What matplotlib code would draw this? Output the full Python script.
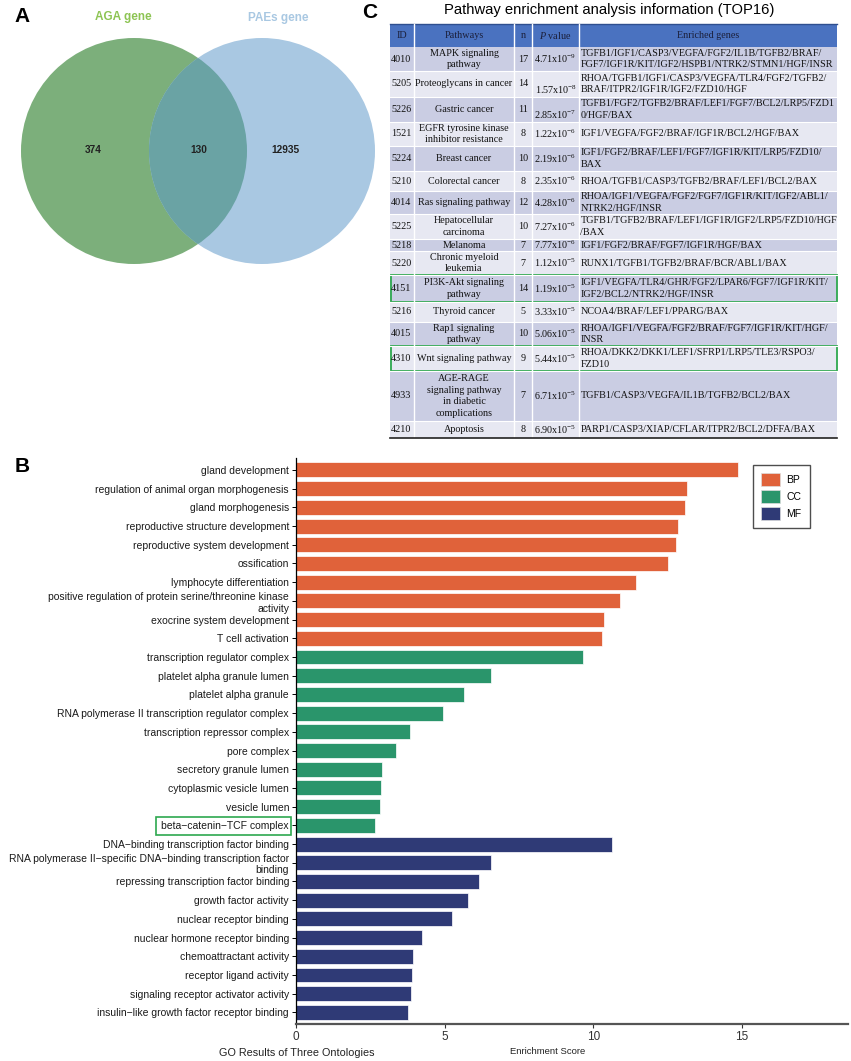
import matplotlib
matplotlib.use('Agg')
import matplotlib.pyplot as plt
from matplotlib.patches import Circle, Rectangle, Patch

plt.rcParams['font.family'] = ['Liberation Sans', 'DejaVu Sans']
plt.rcParams['mathtext.fontset'] = 'custom'
plt.rcParams['mathtext.rm'] = 'Liberation Serif'
plt.rcParams['mathtext.it'] = 'Liberation Serif:italic'

# ======= DATA ========
venn_names = ['AGA gene', 'PAEs gene']
venn_counts = [374, 130, 12935]   # AGA only, shared, PAEs only

tab_title = 'Pathway enrichment analysis information (TOP16)'
tab_header = ['ID', 'Pathways', 'n', r'$\mathit{P}$ value', 'Enriched genes']
tab_ids = ['4010', '5205', '5226', '1521', '5224', '5210', '4014', '5225',
           '5218', '5220', '4151', '5216', '4015', '4310', '4933', '4210']
tab_paths = ['MAPK signaling\npathway', 'Proteoglycans in cancer', 'Gastric cancer',
             'EGFR tyrosine kinase\ninhibitor resistance', 'Breast cancer',
             'Colorectal cancer', 'Ras signaling pathway', 'Hepatocellular\ncarcinoma',
             'Melanoma', 'Chronic myeloid\nleukemia', 'PI3K-Akt signaling\npathway',
             'Thyroid cancer', 'Rap1 signaling\npathway', 'Wnt signaling pathway',
             'AGE-RAGE\nsignaling pathway\nin diabetic\ncomplications', 'Apoptosis']
tab_n = [17, 14, 11, 8, 10, 8, 12, 10, 7, 7, 14, 5, 10, 9, 7, 8]
tab_p_mant = ['4.71', '1.57', '2.85', '1.22', '2.19', '2.35', '4.28', '7.27',
              '7.77', '1.12', '1.19', '3.33', '5.06', '5.44', '6.71', '6.90']
tab_p_exp = [-9, -8, -7, -6, -6, -6, -6, -6, -6, -5, -5, -5, -5, -5, -5, -5]
tab_genes = ['TGFB1/IGF1/CASP3/VEGFA/FGF2/IL1B/TGFB2/BRAF/\nFGF7/IGF1R/KIT/IGF2/HSPB1/NTRK2/STMN1/HGF/INSR',
             'RHOA/TGFB1/IGF1/CASP3/VEGFA/TLR4/FGF2/TGFB2/\nBRAF/ITPR2/IGF1R/IGF2/FZD10/HGF',
             'TGFB1/FGF2/TGFB2/BRAF/LEF1/FGF7/BCL2/LRP5/FZD1\n0/HGF/BAX',
             'IGF1/VEGFA/FGF2/BRAF/IGF1R/BCL2/HGF/BAX',
             'IGF1/FGF2/BRAF/LEF1/FGF7/IGF1R/KIT/LRP5/FZD10/\nBAX',
             'RHOA/TGFB1/CASP3/TGFB2/BRAF/LEF1/BCL2/BAX',
             'RHOA/IGF1/VEGFA/FGF2/FGF7/IGF1R/KIT/IGF2/ABL1/\nNTRK2/HGF/INSR',
             'TGFB1/TGFB2/BRAF/LEF1/IGF1R/IGF2/LRP5/FZD10/HGF\n/BAX',
             'IGF1/FGF2/BRAF/FGF7/IGF1R/HGF/BAX',
             'RUNX1/TGFB1/TGFB2/BRAF/BCR/ABL1/BAX',
             'IGF1/VEGFA/TLR4/GHR/FGF2/LPAR6/FGF7/IGF1R/KIT/\nIGF2/BCL2/NTRK2/HGF/INSR',
             'NCOA4/BRAF/LEF1/PPARG/BAX',
             'RHOA/IGF1/VEGFA/FGF2/BRAF/FGF7/IGF1R/KIT/HGF/\nINSR',
             'RHOA/DKK2/DKK1/LEF1/SFRP1/LRP5/TLE3/RSPO3/\nFZD10',
             'TGFB1/CASP3/VEGFA/IL1B/TGFB2/BCL2/BAX',
             'PARP1/CASP3/XIAP/CFLAR/ITPR2/BCL2/DFFA/BAX']
tab_marked = ['4151', '4310']

go_terms = ['gland development', 'regulation of animal organ morphogenesis',
            'gland morphogenesis', 'reproductive structure development',
            'reproductive system development', 'ossification',
            'lymphocyte differentiation',
            'positive regulation of protein serine/threonine kinase\nactivity',
            'exocrine system development', 'T cell activation',
            'transcription regulator complex', 'platelet alpha granule lumen',
            'platelet alpha granule', 'RNA polymerase II transcription regulator complex',
            'transcription repressor complex', 'pore complex', 'secretory granule lumen',
            'cytoplasmic vesicle lumen', 'vesicle lumen', 'beta\u2212catenin\u2212TCF complex',
            'DNA\u2212binding transcription factor binding',
            'RNA polymerase II\u2212specific DNA\u2212binding transcription factor\nbinding',
            'repressing transcription factor binding', 'growth factor activity',
            'nuclear receptor binding', 'nuclear hormone receptor binding',
            'chemoattractant activity', 'receptor ligand activity',
            'signaling receptor activator activity',
            'insulin\u2212like growth factor receptor binding']
go_scores = [14.87, 13.15, 13.08, 12.86, 12.78, 12.50, 11.43, 10.91, 10.37, 10.28,
             9.65, 6.56, 5.65, 4.95, 3.83, 3.35, 2.89, 2.86, 2.84, 2.65,
             10.62, 6.55, 6.15, 5.78, 5.24, 4.24, 3.95, 3.90, 3.86, 3.78]
go_class = ['BP', 'BP', 'BP', 'BP', 'BP', 'BP', 'BP', 'BP', 'BP', 'BP',
            'CC', 'CC', 'CC', 'CC', 'CC', 'CC', 'CC', 'CC', 'CC', 'CC',
            'MF', 'MF', 'MF', 'MF', 'MF', 'MF', 'MF', 'MF', 'MF', 'MF']
go_marked = 'beta\u2212catenin\u2212TCF complex'
# ======================

class_colors = {'BP': '#E0623A', 'CC': '#2A956B', 'MF': '#2F3A76'}

W, H = 851, 1061
fig = plt.figure(figsize=(W / 100, H / 100), dpi=100)

# overlay in pixel coordinates (y down)
ov = fig.add_axes([0, 0, 1, 1], zorder=5)
ov.set_xlim(0, W)
ov.set_ylim(H, 0)
ov.axis('off')

# ---- panel A: venn ----
left = Circle((134, 151), 113, facecolor='#7CAF7B', edgecolor='none')
right = Circle((262, 151), 113, facecolor='#A9C8E2', edgecolor='none')
ov.add_patch(left)
ov.add_patch(right)
both = Circle((262, 151), 113, facecolor='#6AA3A4', edgecolor='none')
ov.add_patch(both)
both.set_clip_path(Circle((134, 151), 113, transform=ov.transData))
ov.text(123, 17, venn_names[0], color='#8DC453', fontsize=8.5, fontweight='bold',
        ha='center', va='center')
ov.text(278, 18, venn_names[1], color='#A9C8E2', fontsize=8.5, fontweight='bold',
        ha='center', va='center')
for x, c in zip([93, 199, 285], venn_counts):
    ov.text(x, 150, str(c), fontsize=7.3, fontweight='bold', color='#222222',
            ha='center', va='center')

ov.text(22, 16, 'A', fontsize=15, fontweight='bold', ha='center', va='center')
ov.text(370, 13, 'C', fontsize=15, fontweight='bold', ha='center', va='center')
ov.text(22, 466, 'B', fontsize=15, fontweight='bold', ha='center', va='center')

# ---- panel C: table ----
col_x = [390, 414, 514, 532, 579, 837]
head_top, head_bot = 24, 47
row_h = [24, 26, 25, 24, 25, 20, 23, 25, 12, 24, 27, 20, 24, 25, 50, 17]
p_va = ['center', 'bottom', 'bottom'] + ['center'] * 13
serif = 'Liberation Serif'
fs = 7.3
ls = 1.35

ov.text(609, 10, tab_title, fontsize=10.6, ha='center', va='center')
ov.add_patch(Rectangle((col_x[0], head_top), col_x[-1] - col_x[0], head_bot - head_top,
                       facecolor='#4A72C0', edgecolor='none'))
ov.plot([col_x[0], col_x[-1]], [head_top, head_top], color='#2F4F8F', lw=1)
for j, lab in enumerate(tab_header):
    ov.text((col_x[j] + col_x[j + 1]) / 2, (head_top + head_bot) / 2, lab,
            fontsize=fs, family=serif, color='#1B1F3A', ha='center', va='center')

y = head_bot
row_top = []
for i in range(len(tab_ids)):
    h = row_h[i]
    row_top.append(y)
    fc = '#CACDE3' if i % 2 == 0 else '#E7E8F2'
    ov.add_patch(Rectangle((col_x[0], y), col_x[-1] - col_x[0], h, facecolor=fc,
                           edgecolor='none'))
    yc = y + h / 2
    ov.text(col_x[0] + 1, yc, tab_ids[i], fontsize=fs, family=serif, ha='left', va='center',
            color='#111111')
    ov.text((col_x[1] + col_x[2]) / 2, yc, tab_paths[i], fontsize=fs, family=serif,
            ha='center', va='center', linespacing=ls, color='#111111')
    ov.text((col_x[2] + col_x[3]) / 2, yc, str(tab_n[i]), fontsize=fs, family=serif,
            ha='center', va='center', color='#111111')
    ptxt = '%sx10$^{%d}$' % (tab_p_mant[i], tab_p_exp[i])
    if p_va[i] == 'bottom':
        ov.text((col_x[3] + col_x[4]) / 2, y + h - 1, ptxt, fontsize=fs, family=serif,
                ha='center', va='bottom', color='#111111')
    else:
        ov.text((col_x[3] + col_x[4]) / 2, yc, ptxt, fontsize=fs, family=serif,
                ha='center', va='center', color='#111111')
    ov.text(col_x[4] + 1.5, yc, tab_genes[i], fontsize=fs, family=serif, ha='left',
            va='center', linespacing=ls, color='#111111')
    y += h
    ov.plot([col_x[0], col_x[-1]], [y, y], color='white', lw=0.8)
tab_bottom = y
for cx in col_x[1:-1]:
    ov.plot([cx, cx], [head_top, tab_bottom], color='white', lw=1)
ov.plot([col_x[0], col_x[-1]], [tab_bottom, tab_bottom], color='#222222', lw=1.2)

for i, rid in enumerate(tab_ids):
    if rid in tab_marked:
        ov.add_patch(Rectangle((col_x[0] + 0.5, row_top[i]), col_x[-1] - col_x[0] - 1,
                               row_h[i], facecolor='none', edgecolor='#2EA84F', lw=1.3))

# ---- panel B: GO bar chart ----
ax = fig.add_axes([296 / W, 37 / H, 552 / W, 566 / H])
ypos = list(range(len(go_terms)))
ax.barh(ypos, go_scores, height=0.8, color=[class_colors[c] for c in go_class],
        edgecolor='white', linewidth=0.5)
ax.set_yticks(ypos)
ax.set_yticklabels(go_terms, fontsize=7.5, color='#1a1a1a', linespacing=1.2)
ax.set_ylim(29.62, -0.64)
ax.set_xlim(0, 18.57)
ax.set_xticks([0, 5, 10, 15])
ax.tick_params(axis='x', labelsize=8.5, length=3, width=0.8, colors='#333333', pad=2)
ax.tick_params(axis='y', length=3, width=0.7, pad=2)
for s in ['top', 'right']:
    ax.spines[s].set_visible(False)
ax.spines['left'].set_linewidth(0.9)
ax.spines['bottom'].set_color('#555555')
ax.spines['bottom'].set_linewidth(1.6)

handles = [Patch(facecolor=class_colors[k], edgecolor='#dddddd', lw=0.5, label=k)
           for k in ['BP', 'CC', 'MF']]
fig.legend(handles=handles, loc='upper left', bbox_to_anchor=(753 / W, 1 - 465 / H),
           fontsize=7.5, frameon=True, fancybox=False, edgecolor='#222222',
           handlelength=1.8, handleheight=1.5, labelspacing=0.4, borderpad=0.8,
           handletextpad=0.6, borderaxespad=0)

fig.text(297 / W, 1 - 1053 / H, 'GO Results of Three Ontologies', fontsize=7.8,
         ha='center', va='center', color='#222222')
fig.text(548 / W, 1 - 1051 / H, 'Enrichment Score', fontsize=6.8,
         ha='center', va='center', color='#222222')

# green frame around the marked GO term label
fig.canvas.draw()
for lab in ax.get_yticklabels():
    if lab.get_text() == go_marked:
        bb = lab.get_window_extent()
        ov.add_patch(Rectangle((bb.x0 - 5, H - bb.y1 - 4), bb.width + 7, bb.height + 8,
                               facecolor='none', edgecolor='#2EA84F', lw=1.2))

fig.savefig('out.png', dpi=100)
